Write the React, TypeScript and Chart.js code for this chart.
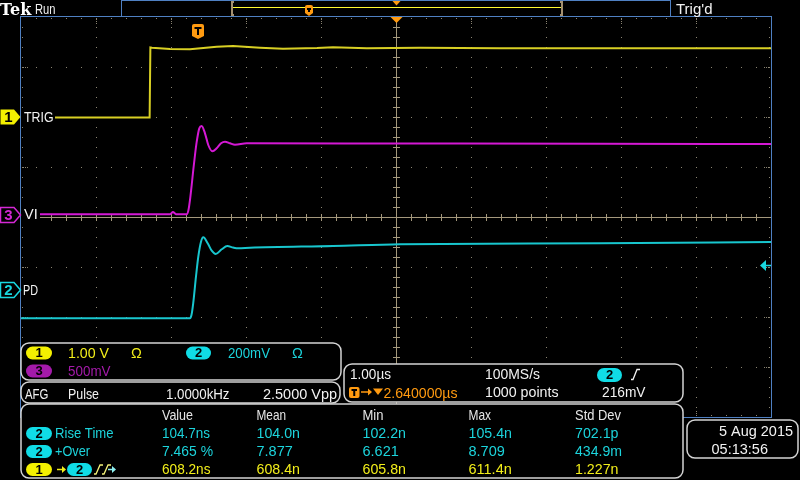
import { useEffect, useRef } from "react";
import { Chart, registerables } from "chart.js";

Chart.register(...registerables);

// Horizontal axis: time in µs relative to the trigger (1.00 µs/div, 10 divisions)
const TIME_MIN = -2.36;
const TIME_MAX = 7.64;
// Vertical axis: graticule divisions (8 divisions, centre = 0)
const DIV_MIN = -4;
const DIV_MAX = 4;

// Channel 1 (TRIG, yellow)
const ch1Time = [-2.36, -0.645, -0.635, -0.613, -0.373, -0.107, 0.249, 0.467, 0.827, 1.133, 1.587, 1.8, 2.253, 2.96, 4.027, 5.36, 7.64];
const ch1Div = [1.99, 1.99, 3.39, 3.386, 3.36, 3.354, 3.406, 3.42, 3.386, 3.366, 3.38, 3.394, 3.374, 3.386, 3.374, 3.374, 3.374];

// Channel 3 (VI, magenta)
const ch3Time = [-2.36, -0.373, -0.333, -0.307, -0.28, -0.151, -0.127, -0.107, -0.084, -0.063, -0.04, -0.017, 0.017, 0.049, 0.093, 0.137, 0.191, 0.249, 0.307, 0.36, 0.427, 0.493, 0.649, 2.693, 5.36, 7.64];
const ch3Div = [0.054, 0.054, 0.1, 0.07, 0.054, 0.054, 0.14, 0.34, 0.64, 0.94, 1.24, 1.506, 1.774, 1.82, 1.674, 1.44, 1.314, 1.374, 1.474, 1.506, 1.474, 1.446, 1.474, 1.47, 1.466, 1.46];

// Channel 2 (PD, cyan)
const ch2Time = [-2.36, -0.107, -0.087, -0.064, -0.027, 0.004, 0.04, 0.071, 0.129, 0.183, 0.236, 0.316, 0.391, 0.467, 0.537, 0.693, 1.8, 2.693, 5.36, 7.64];
const ch2Div = [-2.026, -2.026, -1.96, -1.726, -1.194, -0.794, -0.494, -0.406, -0.526, -0.674, -0.74, -0.646, -0.58, -0.61, -0.626, -0.614, -0.58, -0.546, -0.526, -0.5];

// Channel ground markers (divisions)
const ch1Ground = 2.0;
const ch3Ground = 0.05;
const ch2Ground = -1.46;
const ch2TrigLevel = -0.96;

// Measurement table
const measHeaders = ["Value", "Mean", "Min", "Max", "Std Dev"];
const riseTimeValues = ["104.7ns", "104.0n", "102.2n", "105.4n", "702.1p"];
const overshootValues = ["7.465 %", "7.877", "6.621", "8.709", "434.9m"];
const delayValues = ["608.2ns", "608.4n", "605.8n", "611.4n", "1.227n"];

const FONT = '"Liberation Sans", Arial, sans-serif';
const YEL = "#f2ee1a";
const CYAN = "#1cd4dc";
const PURPLE = "#a41aaa";
const ORANGE = "#ff9a10";
const WHITE = "#f2f2f2";
const BOX = "#d4d4d4";
const BLUE = "#4f80c2";
const DOT = "#8a8472";
const CROSS = "#a4987c";
const TAN = "#a49070";

function txt(ctx: CanvasRenderingContext2D, s: string, x: number, y: number, color: string, maxW?: number, size = 14.5, align: CanvasTextAlign = "left", weight = "") {
  ctx.font = `${weight} ${size}px ${FONT}`;
  ctx.fillStyle = color;
  ctx.textAlign = align;
  ctx.textBaseline = "alphabetic";
  if (maxW) ctx.fillText(s, x, y, maxW);
  else ctx.fillText(s, x, y);
}

function pill(ctx: CanvasRenderingContext2D, x: number, y: number, w: number, h: number, fill: string, label: string) {
  ctx.beginPath();
  ctx.roundRect(x, y, w, h, h / 2);
  ctx.fillStyle = fill;
  ctx.fill();
  ctx.font = `bold 13px ${FONT}`;
  ctx.fillStyle = "#000";
  ctx.textAlign = "center";
  ctx.textBaseline = "middle";
  ctx.fillText(label, x + w / 2, y + h / 2 + 0.5);
}

function rbox(ctx: CanvasRenderingContext2D, x: number, y: number, w: number, h: number) {
  ctx.beginPath();
  ctx.roundRect(x, y, w, h, 8);
  ctx.fillStyle = "#000";
  ctx.fill();
  ctx.strokeStyle = BOX;
  ctx.lineWidth = 1.5;
  ctx.stroke();
}

function chMarker(ctx: CanvasRenderingContext2D, yc: number, color: string, filled: boolean, label: string) {
  ctx.beginPath();
  ctx.moveTo(0.5, yc - 7.5);
  ctx.lineTo(14, yc - 7.5);
  ctx.lineTo(20.5, yc);
  ctx.lineTo(14, yc + 7.5);
  ctx.lineTo(0.5, yc + 7.5);
  ctx.closePath();
  if (filled) {
    ctx.fillStyle = color;
    ctx.fill();
  } else {
    ctx.fillStyle = "#000";
    ctx.fill();
    ctx.strokeStyle = color;
    ctx.lineWidth = 1.5;
    ctx.stroke();
  }
  ctx.font = `bold 15px ${FONT}`;
  ctx.fillStyle = filled ? "#000" : color;
  ctx.textAlign = "center";
  ctx.textBaseline = "middle";
  ctx.fillText(label, 8.5, yc + 1);
}

function shield(ctx: CanvasRenderingContext2D, cx: number, top: number, w: number, h: number) {
  const l = cx - w / 2, r = cx + w / 2;
  ctx.beginPath();
  ctx.moveTo(l, top + 2);
  ctx.quadraticCurveTo(l, top, l + 2, top);
  ctx.lineTo(r - 2, top);
  ctx.quadraticCurveTo(r, top, r, top + 2);
  ctx.lineTo(r, top + h - 3);
  ctx.lineTo(cx, top + h);
  ctx.lineTo(l, top + h - 3);
  ctx.closePath();
  ctx.fillStyle = ORANGE;
  ctx.fill();
  ctx.fillStyle = "#000";
  const tw = Math.max(4, w - 5);
  ctx.fillRect(cx - tw / 2, top + 3, tw, 2);
  ctx.fillRect(cx - 1, top + 3, 2, h - 7);
}

function arrowRight(ctx: CanvasRenderingContext2D, x1: number, x2: number, y: number, color: string) {
  ctx.strokeStyle = color;
  ctx.fillStyle = color;
  ctx.lineWidth = 1.5;
  ctx.beginPath();
  ctx.moveTo(x1, y);
  ctx.lineTo(x2 - 3, y);
  ctx.stroke();
  ctx.beginPath();
  ctx.moveTo(x2, y);
  ctx.lineTo(x2 - 4, y - 3.5);
  ctx.lineTo(x2 - 4, y + 3.5);
  ctx.closePath();
  ctx.fill();
}

function risingEdge(ctx: CanvasRenderingContext2D, x: number, yTop: number, yBot: number, color: string) {
  ctx.strokeStyle = color;
  ctx.lineWidth = 1.3;
  ctx.beginPath();
  ctx.moveTo(x, yBot);
  ctx.lineTo(x + 2, yBot);
  ctx.lineTo(x + 6, yTop);
  ctx.lineTo(x + 9, yTop);
  ctx.stroke();
}

function drawGraticule(chart: any) {
  const { ctx, chartArea: a, scales } = chart;
  const px = (t: number) => Math.round(scales.x.getPixelForValue(t));
  const py = (v: number) => Math.round(scales.y.getPixelForValue(v));
  const L = Math.round(a.left), R = Math.round(a.right), T = Math.round(a.top), B = Math.round(a.bottom);
  const majorX: number[] = [];
  for (let k = 1; k <= 9; k++) majorX.push(px(TIME_MIN + k));
  const minorX: number[] = [];
  for (let i = 1; i <= 49; i++) minorX.push(px(TIME_MIN + i * 0.2));
  const majorY: number[] = [];
  for (let j = 1; j <= 7; j++) majorY.push(py(DIV_MAX - j));
  const minorY: number[] = [];
  for (let j = 1; j <= 39; j++) minorY.push(py(DIV_MAX - j * 0.2));
  const cx = px((TIME_MIN + TIME_MAX) / 2);
  const cy = py(0);
  ctx.save();
  ctx.fillStyle = DOT;
  majorX.forEach((x) => {
    if (x === cx) return;
    minorY.forEach((y) => ctx.fillRect(x, y, 1, 1));
    [2, 4, 6].forEach((d) => {
      ctx.fillRect(x, T + d, 1, 1);
      ctx.fillRect(x, B - d, 1, 1);
    });
  });
  majorY.forEach((y) => {
    if (y === cy) return;
    minorX.forEach((x) => ctx.fillRect(x, y, 1, 1));
    [2, 4, 6].forEach((d) => {
      ctx.fillRect(L + d, y, 1, 1);
      ctx.fillRect(R - 1 - d, y, 1, 1);
    });
  });
  minorX.forEach((x) => {
    ctx.fillRect(x, T + 1, 1, 1);
    ctx.fillRect(x, B - 2, 1, 1);
  });
  minorY.forEach((y) => {
    ctx.fillRect(L + 1, y, 1, 1);
    ctx.fillRect(R - 2, y, 1, 1);
  });
  ctx.fillStyle = CROSS;
  ctx.fillRect(L, cy, R - L, 1);
  ctx.fillRect(cx, T, 1, B - T);
  minorX.forEach((x) => ctx.fillRect(x, cy - 3, 1, 7));
  minorY.forEach((y) => ctx.fillRect(cx - 3, y, 7, 1));
  ctx.strokeStyle = BLUE;
  ctx.lineWidth = 1;
  ctx.strokeRect(L - 0.5, T - 0.5, R - L + 1, B - T + 1);
  ctx.restore();
}

function drawOverlay(chart: any) {
  const { ctx, chartArea: a, scales } = chart;
  const py = (v: number) => scales.y.getPixelForValue(v);
  const px = (t: number) => scales.x.getPixelForValue(t);
  ctx.save();

  // channel labels (black backing hides the traces)
  const y1 = Math.round(py(ch1Ground));
  const y3 = Math.round(py(ch3Ground));
  const y2 = Math.round(py(ch2Ground));
  ctx.fillStyle = "#000";
  ctx.fillRect(21, y1 - 8, 34, 16);
  ctx.fillRect(21, y3 - 8, 19, 16);
  ctx.fillRect(21, y2 - 8, 18, 16);
  txt(ctx, "TRIG", 24, y1 + 5, WHITE, 29.5, 14.5);
  txt(ctx, "VI", 24, y3 + 4, WHITE, 14.5, 14.5);
  txt(ctx, "PD", 23, y2 + 4.5, WHITE, 15, 14.5);
  chMarker(ctx, y1, "#f4f000", true, "1");
  chMarker(ctx, y3, "#d428d4", false, "3");
  chMarker(ctx, y2, "#18d8e0", false, "2");

  // trigger marker and centre marker
  const tx = Math.round(px(0));
  shield(ctx, tx, 24, 12, 15);
  const cxp = Math.round(px((TIME_MIN + TIME_MAX) / 2)) + 0.5;
  ctx.fillStyle = ORANGE;
  ctx.beginPath();
  ctx.moveTo(cxp - 6, a.top);
  ctx.lineTo(cxp + 6, a.top);
  ctx.lineTo(cxp, a.top + 6);
  ctx.closePath();
  ctx.fill();

  // channel 2 trigger level arrow
  const yl = Math.round(py(ch2TrigLevel)) + 0.5;
  ctx.fillStyle = "#18d8e0";
  ctx.beginPath();
  ctx.moveTo(760, yl);
  ctx.lineTo(766, yl - 5.5);
  ctx.lineTo(766, yl + 5.5);
  ctx.closePath();
  ctx.fill();
  ctx.fillRect(766, yl - 0.75, 5, 1.5);

  // top bar
  txt(ctx, "Tek", 0, 14.5, "#ffffff", 32, 16, "left", "bold");
  ctx.font = `bold 16px "DejaVu Serif", serif`;
  ctx.fillStyle = "#fff";
  ctx.textAlign = "left";
  ctx.fillStyle = "#000";
  ctx.fillRect(0, 0, 34, 16);
  ctx.fillStyle = "#fff";
  ctx.fillText("Tek", 0, 14.5, 32);
  txt(ctx, "Run", 35, 14, WHITE, 20.5, 14.5);
  txt(ctx, "Trig'd", 676, 14, WHITE, 37, 15);
  ctx.strokeStyle = BLUE;
  ctx.lineWidth = 1;
  ctx.strokeRect(121.5, 0.5, 549, 16);
  ctx.fillStyle = "#fffa30";
  ctx.fillRect(233, 7, 328, 1);
  ctx.fillStyle = TAN;
  ctx.fillRect(231, 1, 2, 15);
  ctx.fillRect(231, 1, 3, 2);
  ctx.fillRect(231, 14, 3, 2);
  ctx.fillRect(561, 1, 2, 15);
  ctx.fillRect(560, 1, 3, 2);
  ctx.fillRect(560, 14, 3, 2);
  shield(ctx, 309, 5, 8, 11);
  ctx.fillStyle = ORANGE;
  ctx.beginPath();
  ctx.moveTo(392.5, 1);
  ctx.lineTo(400.5, 1);
  ctx.lineTo(396.5, 5.5);
  ctx.closePath();
  ctx.fill();

  // vertical settings box
  rbox(ctx, 21, 343, 320, 37);
  pill(ctx, 26, 346.5, 26, 13, "#f4f000", "1");
  txt(ctx, "1.00 V", 68, 357.5, YEL, 41);
  txt(ctx, "Ω", 131, 357.5, YEL, 11);
  pill(ctx, 186, 346.5, 25, 13, "#10dce6", "2");
  txt(ctx, "200mV", 228, 357.5, CYAN, 42);
  txt(ctx, "Ω", 292, 357.5, CYAN, 11);
  pill(ctx, 26, 364.5, 26, 13, PURPLE, "3");
  txt(ctx, "500mV", 68, 376, PURPLE, 42.5);

  // AFG box
  rbox(ctx, 21, 382, 319, 21);
  txt(ctx, "AFG", 25, 398.5, WHITE, 23.5);
  txt(ctx, "Pulse", 68, 398.5, WHITE, 31);
  txt(ctx, "1.0000kHz", 166, 398.5, WHITE, 63.5);
  txt(ctx, "2.5000 Vpp", 263, 398.5, WHITE, 74);

  // horizontal / trigger box
  rbox(ctx, 344, 364, 339, 38);
  txt(ctx, "1.00µs", 350, 378.5, WHITE, 41);
  txt(ctx, "100MS/s", 485, 378.5, WHITE, 55);
  pill(ctx, 597, 368, 25, 14, "#10dce6", "2");
  risingEdge(ctx, 631, 369.5, 379.5, WHITE);
  ctx.beginPath();
  ctx.roundRect(349, 387, 10.5, 11, 2);
  ctx.fillStyle = ORANGE;
  ctx.fill();
  ctx.fillStyle = "#000";
  ctx.fillRect(351.5, 389, 5.5, 2);
  ctx.fillRect(353.25, 389, 2, 7);
  arrowRight(ctx, 361, 372, 392, ORANGE);
  ctx.fillStyle = ORANGE;
  ctx.beginPath();
  ctx.moveTo(373, 388.5);
  ctx.lineTo(383, 388.5);
  ctx.lineTo(378, 395);
  ctx.closePath();
  ctx.fill();
  txt(ctx, "2.640000µs", 383.5, 397.5, ORANGE, 74);
  txt(ctx, "1000 points", 485, 397, WHITE, 73.5);
  txt(ctx, "216mV", 602, 397, WHITE, 43.5);

  // measurements box
  rbox(ctx, 21, 404, 662, 74);
  const cols = [162, 256.5, 362.5, 468.5, 575];
  const headW = [31, 29.5, 21, 22.5, 46];
  measHeaders.forEach((h, i) => txt(ctx, h, cols[i], 420, "#e6e6e6", headW[i]));
  pill(ctx, 26, 427, 26, 13, "#10dce6", "2");
  txt(ctx, "Rise Time", 55, 437.5, CYAN, 58.5);
  riseTimeValues.forEach((v, i) => txt(ctx, v, cols[i], 437.5, CYAN, i === 0 ? 48 : 43.5));
  pill(ctx, 26, 445, 26, 13, "#10dce6", "2");
  txt(ctx, "+Over", 55, 455.5, CYAN, 35);
  overshootValues.forEach((v, i) => txt(ctx, v, cols[i], 455.5, CYAN, i === 0 ? 51 : 47));
  pill(ctx, 26, 463, 26, 13, "#f4f000", "1");
  arrowRight(ctx, 57, 66, 469.5, YEL);
  pill(ctx, 67, 463, 25, 13, "#10dce6", "2");
  risingEdge(ctx, 94, 465, 474, "#f4f27a");
  risingEdge(ctx, 102, 465, 474, "#f4f27a");
  arrowRight(ctx, 108, 116, 469.5, "#8ef0f0");
  delayValues.forEach((v, i) => txt(ctx, v, cols[i], 474, YEL, i === 0 ? 48.5 : 43.5));

  // date box
  rbox(ctx, 687, 420, 111, 38);
  txt(ctx, "5 Aug 2015", 793, 435.5, WHITE, 74, 14.5, "right");
  txt(ctx, "05:13:56", 711.5, 454, WHITE, 57);

  ctx.restore();
}

const scopePlugin = {
  id: "scopeDecor",
  beforeDraw(chart: any) {
    const ctx = chart.ctx;
    ctx.save();
    ctx.fillStyle = "#000";
    ctx.fillRect(0, 0, chart.width, chart.height);
    ctx.restore();
  },
  beforeDatasetsDraw(chart: any) {
    drawGraticule(chart);
  },
  afterDatasetsDraw(chart: any) {
    drawOverlay(chart);
  },
};

const toPoints = (t: number[], v: number[]) => t.map((x, i) => ({ x, y: v[i] }));

export default function App() {
  const ref = useRef<HTMLCanvasElement>(null);
  useEffect(() => {
    document.body.style.margin = "0";
    document.body.style.background = "#000";
    const chart = new Chart(ref.current as HTMLCanvasElement, {
      type: "line",
      data: {
        datasets: [
          { label: "1 TRIG", data: toPoints(ch1Time, ch1Div), borderColor: "#d8cf24", borderWidth: 2, pointRadius: 0, tension: 0 },
          { label: "3 VI", data: toPoints(ch3Time, ch3Div), borderColor: "#d418d4", borderWidth: 2, pointRadius: 0, cubicInterpolationMode: "monotone" },
          { label: "2 PD", data: toPoints(ch2Time, ch2Div), borderColor: "#18c6ce", borderWidth: 2, pointRadius: 0, cubicInterpolationMode: "monotone" },
        ],
      },
      options: {
        animation: false,
        responsive: false,
        devicePixelRatio: 1,
        events: [],
        layout: { padding: { left: 21, right: 29, top: 17, bottom: 63 } },
        scales: {
          x: { type: "linear", min: TIME_MIN, max: TIME_MAX, display: false },
          y: { type: "linear", min: DIV_MIN, max: DIV_MAX, display: false },
        },
        plugins: { legend: { display: false }, tooltip: { enabled: false } },
      },
      plugins: [scopePlugin],
    } as any);
    return () => chart.destroy();
  }, []);
  return (
    <div style={{ position: "fixed", left: 0, top: 0, width: 800, height: 480, background: "#000" }}>
      <canvas ref={ref} width={800} height={480} style={{ display: "block", width: 800, height: 480 }} />
    </div>
  );
}
